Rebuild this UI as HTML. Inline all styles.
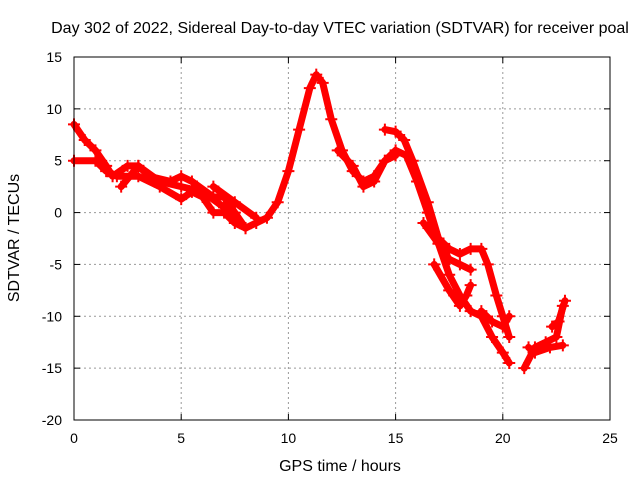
<!DOCTYPE html>
<html><head><meta charset="utf-8"><style>
body{margin:0;background:#fff;font-family:"Liberation Sans",sans-serif;}
svg text{font-family:"Liberation Sans",sans-serif;font-size:14px;fill:#000;}
svg text.big{font-size:16px;}
</style></head><body>
<svg id="c" width="640" height="480">
<text class="big" x="340" y="33" text-anchor="middle">Day 302 of 2022, Sidereal Day-to-day VTEC variation (SDTVAR) for receiver poal</text>
<text class="big" x="340" y="471" text-anchor="middle">GPS time / hours</text>
<text class="big" transform="translate(19,238) rotate(-90)" text-anchor="middle">SDTVAR / TECUs</text>
<g id="grid"></g><g id="series"></g>
<rect x="74" y="57" width="536" height="363" fill="none" stroke="#000" stroke-width="1"/>
</svg>
<script>
const xTicks=[0,5,10,15,20,25];
const yTicks=[15,10,5,0,-5,-10,-15,-20];
const trackMainX=[0,0.5,1,1.5,1.8,2.5,3,3.5,4.5,5,5.5,6.5,7,7.5,8,8.5,9,9.5,10,10.5,11,11.3,11.6,12,12.5,13,13.5,14,14.5,15,15.5,16,16.5,17,17.5,18,18.5,19,19.5,20,20.3];
const trackMainY=[8.5,7,6,4.5,3.5,4.5,4.5,3.5,3,3.5,3,1.5,1.5,0,-1.5,-1,-0.5,1,4,8,12,13.3,12.5,9,6,4,3,3.5,5,6,5.5,3,0,-3,-6,-8,-9.5,-10,-12,-13.5,-14.5];
const trackBX=[0,1,1.5,2,3,4,5,5.5,6,6.5,7,7.5,8];
const trackBY=[5,5,4,3.5,3.5,2.5,1.3,2,1.5,0,0,-1,-1.5];
const trackCX=[2.2,3,4,5,6,7,7.5,8];
const trackCY=[2.5,4.5,3,2.5,2,0.5,-0.5,-1.5];
const trackDX=[6.5,7.5,8.5];
const trackDY=[2.5,1,-0.5];
const trackEX=[12.3,13,13.5,14,14.5,15];
const trackEY=[6,4.5,2.5,3,5,5.5];
const trackFX=[14.5,15,15.4,15.8,16.5,17,17.5,18,18.5,19,19.3,19.7,20,20.3];
const trackFY=[8,7.8,7,5,1,-2.5,-3.5,-4,-3.5,-3.5,-5,-8,-10,-12];
const trackGX=[16.3,17,17.5,18,18.5];
const trackGY=[-1,-3,-4.5,-5,-5.5];
const trackHX=[16.8,17.5,18,18.3,18.5];
const trackHY=[-5,-7.5,-9,-8,-7];
const trackIX=[19,19.5,20,20.3];
const trackIY=[-9.5,-10.5,-11,-10];
const trackJX=[21,21.5,22,22.5,22.8];
const trackJY=[-15,-13,-12.5,-12,-9];
const trackKX=[21.2,21.5,22.2,22.8];
const trackKY=[-13,-13.5,-13,-12.8];
const trackLX=[22.3,22.6,22.9];
const trackLY=[-11,-10.5,-8.5];
const tracks=[[trackMainX,trackMainY],[trackBX,trackBY],[trackCX,trackCY],[trackDX,trackDY],[trackEX,trackEY],[trackFX,trackFY],[trackGX,trackGY],[trackHX,trackHY],[trackIX,trackIY],[trackJX,trackJY],[trackKX,trackKY],[trackLX,trackLY]];
const X0=74,X1=610,Y0=420,Y1=57;
const sx=v=>X0+(v-0)/25*(X1-X0);
const sy=v=>Y0-(v+20)/35*(Y0-Y1);
const NS="http://www.w3.org/2000/svg";
const grid=document.getElementById('grid'),ser=document.getElementById('series');
function mk(t,a,p){const e=document.createElementNS(NS,t);for(const k in a)e.setAttribute(k,a[k]);p.appendChild(e);return e;}
xTicks.forEach(t=>{const x=sx(t);
 if(t>0&&t<25){const l=mk('line',{x1:x,x2:x,y1:Y1,y2:Y0,stroke:'#999','stroke-dasharray':'2,3'},grid);
 
 }
 mk('line',{x1:x,x2:x,y1:Y0,y2:Y0-6,stroke:'#000'},grid);mk('line',{x1:x,x2:x,y1:Y1,y2:Y1+6,stroke:'#000'},grid);
 const tx=mk('text',{x:x,y:443,'text-anchor':'middle'},grid);tx.textContent=t;
 
 });
yTicks.forEach(t=>{const y=sy(t);
 if(t>-20&&t<15){const l=mk('line',{x1:X0,x2:X1,y1:y,y2:y,stroke:'#999','stroke-dasharray':'2,3'},grid);
 
 }
 mk('line',{x1:X0,x2:X0+6,y1:y,y2:y,stroke:'#000'},grid);mk('line',{x1:X1,x2:X1-6,y1:y,y2:y,stroke:'#000'},grid);
 const tx=mk('text',{x:62,y:y+5,'text-anchor':'end'},grid);tx.textContent=t;
 
 });
tracks.forEach(([xs,ys])=>{
 const pts=xs.map((x,i)=>sx(x)+','+sy(ys[i])).join(' ');
 const p=mk('polyline',{points:pts,fill:'none',stroke:'#f00','stroke-width':7,'stroke-linejoin':'round','stroke-linecap':'round'},ser);
 
 
 xs.forEach((x,i)=>{const cx=sx(x),cy=sy(ys[i]);
  const m=mk('path',{d:`M${cx-6},${cy}h12M${cx},${cy-6}v12`,stroke:'#f00','stroke-width':2},ser);
  
  });
});
</script>
</body></html>
